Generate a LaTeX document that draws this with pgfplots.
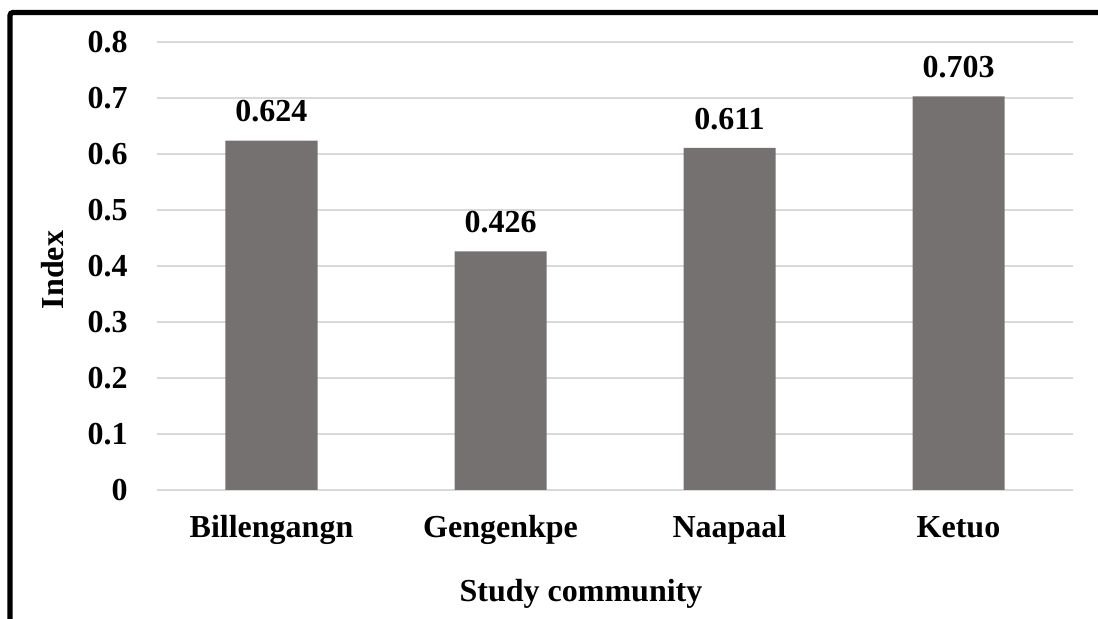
\documentclass[border=0pt]{standalone}
\usepackage{pgfplots}
\pgfplotsset{compat=1.18}
\usepackage{fontspec}
\setmainfont{Liberation Serif}

\definecolor{bargray}{HTML}{767171}
\definecolor{gridgray}{HTML}{D9D9D9}

\begin{document}
\begin{tikzpicture}
\useasboundingbox (0,0) rectangle (549pt,309.5pt);
% frame of the chart area (top and left edges only)
\draw[line width=2.6pt, rounded corners=1.5pt] (5pt,0pt) -- (5pt,303.25pt) -- (549pt,303.25pt);
\begin{axis}[
    at={(78.5pt,64.5pt)}, anchor=south west,
    scale only axis,
    width=458pt, height=224pt,
    ybar, bar width=46pt,
    xmin=-0.5, xmax=3.5,
    ymin=0, ymax=0.8,
    ytick={0,0.1,...,0.8},
    xtick=data,
    xticklabels={Billengangn,Gengenkpe,Naapaal,Ketuo},
    axis line style={draw=none},
    major tick length=0pt,
    ymajorgrids,
    major grid style={draw=gridgray, line width=1pt},
    /pgf/number format/assume math mode=true,
    every tick label/.append style={font=\bfseries\fontsize{16}{19}\selectfont, inner sep=0pt},
    yticklabel style={anchor=east, xshift=-14.5pt},
    xticklabel style={anchor=base, yshift=-24pt},
    nodes near coords={\pgfmathprintnumber[fixed,fixed zerofill,precision=3]{\pgfplotspointmeta}},
    every node near coord/.append style={font=\bfseries\fontsize{16}{19}\selectfont, anchor=base, inner sep=0pt, yshift=9.3pt, text=black},
    xlabel={Study community},
    xlabel style={at={(axis description cs:0.4629,-0.25)}, anchor=base, font=\bfseries\fontsize{16}{19}\selectfont},
    ylabel={Index},
    ylabel style={at={(axis description cs:-0.1135,0.491)}, anchor=center, font=\bfseries\fontsize{16}{19}\selectfont},
    ]
\addplot[fill=bargray, draw=none] coordinates {(0,0.624) (1,0.426) (2,0.611) (3,0.703)};
\end{axis}
\end{tikzpicture}
\end{document}
